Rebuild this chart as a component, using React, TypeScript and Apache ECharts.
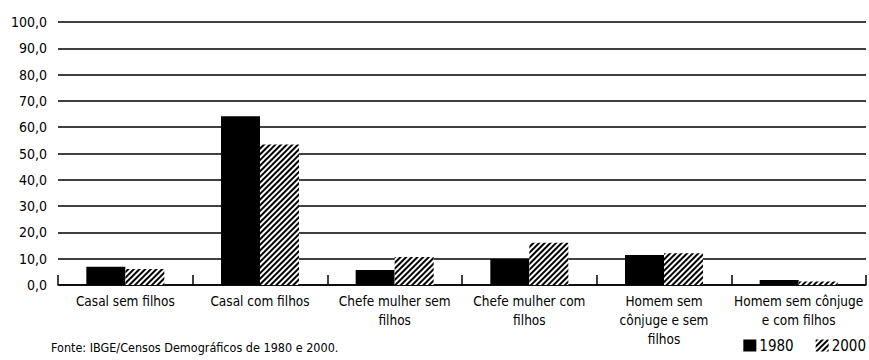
import React, { useEffect, useRef } from "react";
import * as echarts from "echarts";

const categories = [
  "Casal sem filhos",
  "Casal com filhos",
  "Chefe mulher sem\nfilhos",
  "Chefe mulher com\nfilhos",
  "Homem sem\ncônjuge e sem\nfilhos",
  "Homem sem cônjuge\ne com filhos",
];
const values1980 = [6.9, 64.2, 5.7, 9.9, 11.4, 1.9];
const values2000 = [6.1, 53.4, 10.6, 16.1, 12.1, 1.3];
const seriesNames = ["1980", "2000"];
const sourceText = "Fonte: IBGE/Censos Demográficos de 1980 e 2000.";

const FONT = "'DejaVu Sans Condensed', 'Liberation Sans Narrow', sans-serif";

export default function App() {
  const ref = useRef<HTMLDivElement>(null);
  useEffect(() => {
    if (!ref.current) return;
    const chart = echarts.init(ref.current, null, { renderer: "svg" });
    const hatch = {
      symbol: "rect",
      symbolSize: 1,
      rotation: -Math.PI / 4,
      dashArrayX: [1, 0],
      dashArrayY: [2, 1.6],
      color: "#000",
      backgroundColor: "#fff",
    };
    chart.setOption({
      animation: false,
      textStyle: { fontFamily: FONT, color: "#000" },
      grid: { left: 58, right: 3, top: 22, bottom: 75 },
      legend: {
        right: -2,
        bottom: 2,
        itemWidth: 13,
        itemHeight: 12,
        itemGap: 22,
        icon: "rect",
        textStyle: { fontFamily: FONT, fontSize: 15, color: "#000", padding: [0, 0, 0, -2] },
        data: seriesNames,
      },
      graphic: [
        {
          type: "text",
          left: 51,
          top: 341,
          style: { text: sourceText, fontFamily: FONT, fontSize: 12.5, fill: "#000" },
        },
      ],
      xAxis: {
        type: "category",
        data: categories,
        axisLine: { lineStyle: { color: "#000", width: 1.5 } },
        axisTick: { show: true, inside: true, length: 10, lineStyle: { color: "#000", width: 1.5 } },
        axisLabel: {
          interval: 0,
          fontFamily: FONT,
          fontSize: 13.5,
          color: "#000",
          lineHeight: 19,
          margin: 6,
        },
      },
      yAxis: {
        type: "value",
        min: 0,
        max: 100,
        interval: 10,
        axisLine: { show: false },
        axisTick: { show: false },
        splitLine: { lineStyle: { color: "#000", width: 1.5 } },
        axisLabel: {
          fontFamily: FONT,
          fontSize: 14,
          color: "#000",
          margin: 11,
          formatter: (v: number) => v.toFixed(1).replace(".", ","),
        },
      },
      series: [
        {
          name: seriesNames[0],
          type: "bar",
          data: values1980,
          barWidth: 39,
          barGap: "0%",
          itemStyle: { color: "#000" },
        },
        {
          name: seriesNames[1],
          type: "bar",
          data: values2000,
          barWidth: 39,
          itemStyle: { color: "#fff", decal: hatch },
        },
      ],
    });
    return () => chart.dispose();
  }, []);
  return <div ref={ref} style={{ width: 869, height: 360, position: "absolute", left: 0, top: 0 }} />;
}
